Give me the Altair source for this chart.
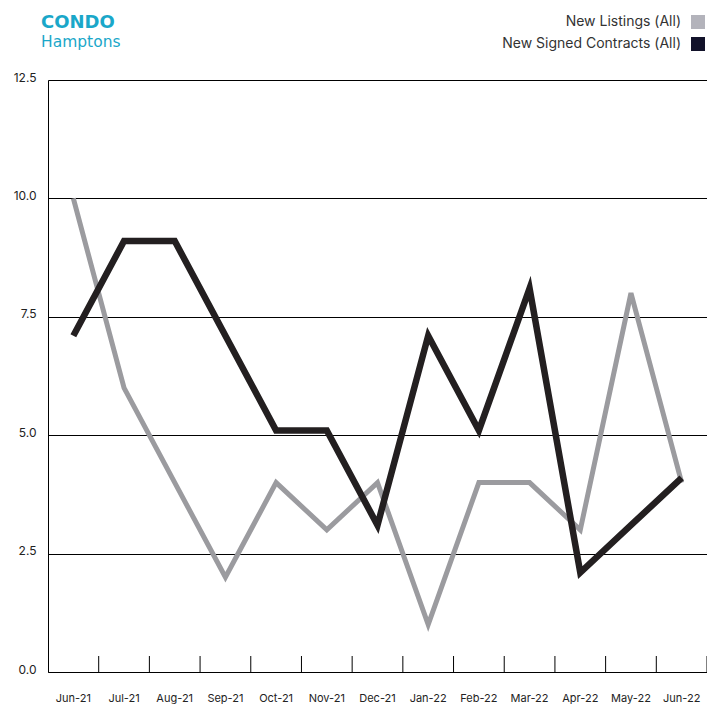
import altair as alt
import pandas as pd

months = ["Jun-21", "Jul-21", "Aug-21", "Sep-21", "Oct-21", "Nov-21", "Dec-21",
          "Jan-22", "Feb-22", "Mar-22", "Apr-22", "May-22", "Jun-22"]
new_listings = [10, 6, 4, 2, 4, 3, 4, 1, 4, 4, 3, 8, 4]
new_contracts = [7.1, 9.1, 9.1, 7.1, 5.1, 5.1, 3.1, 7.1, 5.1, 8.1, 2.1, 3.1, 4.1]
y_ticks = [0, 2.5, 5, 7.5, 10, 12.5]

W, H = 659, 592
GREY = "#9b9b9f"
BLACK = "#231f20"

df_l = pd.DataFrame({"month": months, "value": new_listings})
df_c = pd.DataFrame({"month": months, "value": new_contracts})
df_ticks = pd.DataFrame({"month": months})

x_enc = alt.X("month:N", sort=months,
              scale=alt.Scale(domain=months, paddingInner=0, paddingOuter=0),
              axis=alt.Axis(title=None, labelAngle=0, ticks=False, domain=True,
                            domainColor="#000", domainWidth=1, labelPadding=20,
                            labelFontSize=11, labelColor="#222", labelFont="Inter",
                            labelBaseline="top"))
y_enc = alt.Y("value:Q",
              scale=alt.Scale(domain=[0, 12.5], nice=False),
              axis=alt.Axis(title=None, values=y_ticks, format=".1f", grid=True,
                            gridColor="#000", gridWidth=1, ticks=False,
                            domain=True, domainColor="#000", domainWidth=1,
                            labelPadding=12, labelFontSize=12, labelColor="#222",
                            labelFont="Inter", labelOffset=-3))

line_l = alt.Chart(df_l).mark_line(color=GREY, strokeWidth=5, strokeJoin="miter",
                                   strokeCap="butt").encode(x=x_enc, y=y_enc)
line_c = alt.Chart(df_c).mark_line(color=BLACK, strokeWidth=6.5, strokeJoin="miter",
                                   strokeCap="butt").encode(
    x=alt.X("month:N", sort=months), y=alt.Y("value:Q"))

ticks = alt.Chart(df_ticks).mark_rule(color="#000", strokeWidth=1).encode(
    x=alt.X("month:N", sort=months, bandPosition=1),
    y=alt.value(H - 16), y2=alt.value(H))

title1 = alt.Chart(pd.DataFrame({"t": ["CONDO"]})).mark_text(
    align="left", baseline="alphabetic", font="DejaVu Sans", fontSize=18,
    fontWeight="bold", color="#1aa7c9").encode(
    text="t:N", x=alt.value(-7), y=alt.value(-52))
title2 = alt.Chart(pd.DataFrame({"t": ["Hamptons"]})).mark_text(
    align="left", baseline="alphabetic", font="DejaVu Sans", fontSize=15.5,
    color="#1aa7c9").encode(text="t:N", x=alt.value(-7), y=alt.value(-33))

leg_names = ["New Listings (All)", "New Signed Contracts (All)"]
leg_colors = ["#b3b3bb", "#12122a"]
leg1 = alt.Chart(pd.DataFrame({"t": [leg_names[0]]})).mark_text(
    align="right", baseline="middle", font="Inter", fontSize=14, color="#333").encode(
    text="t:N", x=alt.value(633), y=alt.value(-58))
leg2 = alt.Chart(pd.DataFrame({"t": [leg_names[1]]})).mark_text(
    align="right", baseline="middle", font="Inter", fontSize=14, color="#333").encode(
    text="t:N", x=alt.value(633), y=alt.value(-36))
sq1 = alt.Chart(pd.DataFrame({"t": [leg_names[0]]})).mark_square(
    size=196, opacity=1, color=leg_colors[0]).encode(x=alt.value(650), y=alt.value(-58))
sq2 = alt.Chart(pd.DataFrame({"t": [leg_names[1]]})).mark_square(
    size=196, opacity=1, color=leg_colors[1]).encode(x=alt.value(650), y=alt.value(-36))

chart = alt.layer(line_l, line_c, ticks, title1, title2, leg1, leg2, sq1, sq2).properties(
    width=W, height=H,
    autosize=alt.AutoSizeParams(type="none"),
    padding={"left": 40, "top": 72, "right": 0, "bottom": 32},
).configure_view(stroke=None).configure(background="white")

chart.save("out.html", embed_options={"renderer": "svg", "actions": False})
